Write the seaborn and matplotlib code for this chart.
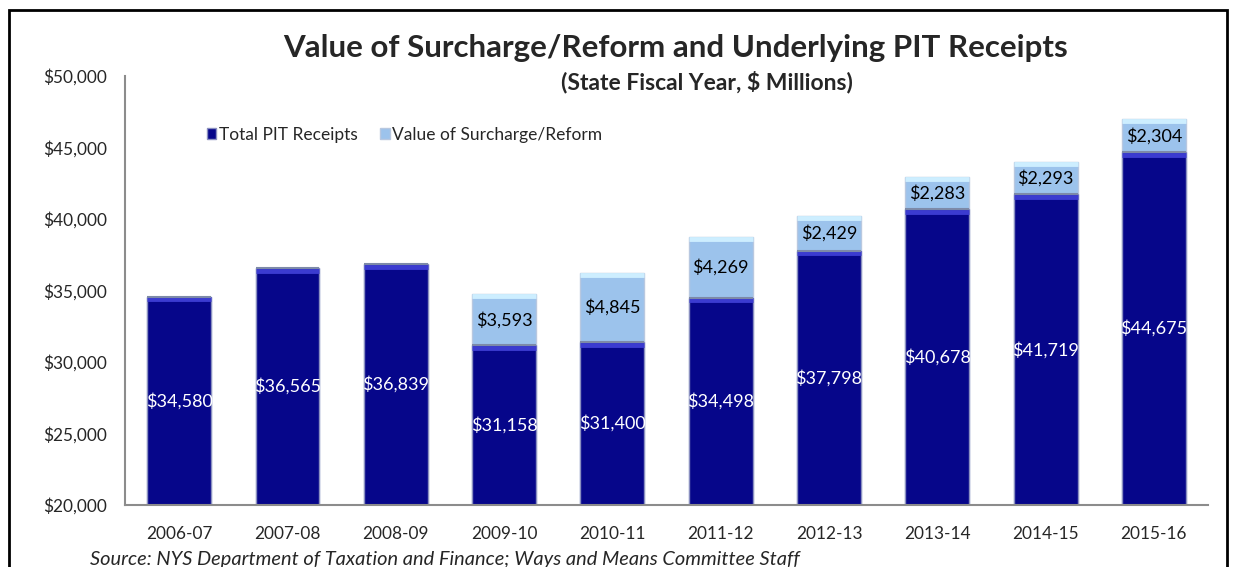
import pandas as pd
import seaborn as sns
import matplotlib.pyplot as plt
from matplotlib.patches import Rectangle, Patch

# data
years = ['2006-07', '2007-08', '2008-09', '2009-10', '2010-11',
         '2011-12', '2012-13', '2013-14', '2014-15', '2015-16']
pit_receipts = [34580, 36565, 36839, 31158, 31400, 34498, 37798, 40678, 41719, 44675]
surcharge = [0, 0, 0, 3593, 4845, 4269, 2429, 2283, 2293, 2304]

df = pd.DataFrame({'Year': years, 'PIT': pit_receipts, 'Surcharge': surcharge})
df['Total'] = df['PIT'] + df['Surcharge']

dark = '#06068a'
light = '#9cc3ec'

sns.set_style('white')
plt.rcParams['font.family'] = ['Lato', 'DejaVu Sans']

fig = plt.figure(figsize=(12.38, 5.67), dpi=100)
ax = fig.add_axes([0.101, 0.1093, 0.8748, 0.7566])

# stacked bars: totals first, underlying receipts drawn over them
sns.barplot(data=df, x='Year', y='Total', color=light, width=0.59,
            edgecolor='#b8c8e0', linewidth=1, saturation=1, ax=ax)
n = len(ax.patches)
sns.barplot(data=df, x='Year', y='PIT', color=dark, width=0.59,
            edgecolor='#8a8fc0', linewidth=1, saturation=1, ax=ax)

# bevel-ish highlight along the top of each segment
for k, p in enumerate(ax.patches):
    x0, x1 = p.get_x(), p.get_x() + p.get_width()
    top = p.get_y() + p.get_height()
    if k < n:
        if df['Surcharge'].iloc[k] == 0:
            continue
        ax.plot([x0, x1], [top - 150, top - 150], color='#cdeeff', lw=3.5,
                solid_capstyle='butt', zorder=3)
    else:
        ax.plot([x0, x1], [top, top], color='#7d8aa8', lw=1.5, solid_capstyle='butt',
                zorder=4)
        ax.plot([x0, x1], [top - 180, top - 180], color='#3b3bd0', lw=3.5,
                solid_capstyle='butt', zorder=3)

ymin = 20000
ax.set_xlim(-0.5, len(years) - 0.5)
ax.set_ylim(ymin, 50000)
ax.set_yticks(range(20000, 50001, 5000))
ax.set_yticklabels([f'${v:,}' for v in range(20000, 50001, 5000)], fontsize=12.4)
ax.tick_params(axis='x', labelsize=12.4, length=0, pad=15)
ax.tick_params(axis='y', length=0, pad=13)
ax.set_xlabel('')
ax.set_ylabel('')

for s in ['top', 'right']:
    ax.spines[s].set_visible(False)
for s in ['left', 'bottom']:
    ax.spines[s].set_color('#8c8c8c')
    ax.spines[s].set_linewidth(1.5)

# value labels
for i, row in df.iterrows():
    ax.text(i, (ymin + row['PIT']) / 2, f"${row['PIT']:,}", ha='center', va='center',
            color='white', fontsize=13, zorder=5)
    if row['Surcharge'] > 0:
        ax.text(i, row['PIT'] + row['Surcharge'] / 2, f"${row['Surcharge']:,}",
                ha='center', va='center', color='black', fontsize=13, zorder=5)

handles = [Patch(facecolor=dark, edgecolor='#8a8fc0'),
           Patch(facecolor=light, edgecolor='#b8c8e0')]
ax.legend(handles, ['Total PIT Receipts', 'Value of Surcharge/Reform'],
          loc='center left', bbox_to_anchor=(0.061, 0.863), ncol=2, frameon=False,
          fontsize=12.5, handlelength=0.55, handleheight=0.55, handletextpad=0.15,
          columnspacing=1.3)

fig.text(0.5457, 0.915, 'Value of Surcharge/Reform and Underlying PIT Receipts',
         ha='center', va='center', fontsize=22.5, fontweight='bold')
fig.text(0.571, 0.855, '(State Fiscal Year, $ Millions)',
         ha='center', va='center', fontsize=16.5, fontweight='bold')
fig.text(0.0727, 0.013, 'Source: NYS Department of Taxation and Finance; Ways and Means Committee Staff',
         ha='left', va='center', fontsize=14.4, style='italic')

# outer chart frame
fig.patches.append(Rectangle((0.0075, -0.05), 0.984, 1.032, transform=fig.transFigure,
                             fill=False, edgecolor='black', linewidth=2))

fig.savefig('out.png', dpi=100)
